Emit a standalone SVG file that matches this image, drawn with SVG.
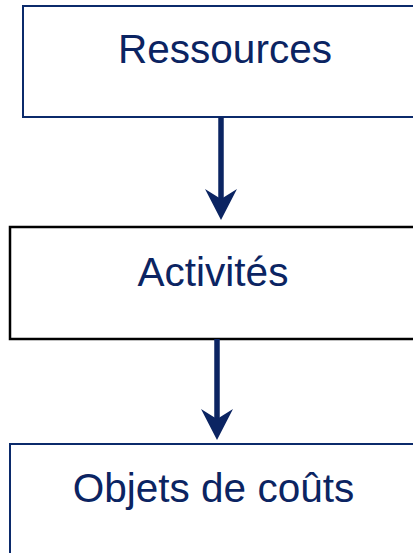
<svg xmlns="http://www.w3.org/2000/svg" width="413" height="553" viewBox="0 0 413 553">
<style>
.lbl{font-family:"Liberation Sans",Arial,sans-serif;font-size:40.5px;fill:#0b2462;text-anchor:middle}
.blue{fill:#fff;stroke:#0b2a6b;stroke-width:2}
.black{fill:#fff;stroke:#000;stroke-width:2.5}
.conn{stroke:#0b2462;stroke-width:5.5;fill:none}
</style>
<defs>
<marker id="ah" markerUnits="userSpaceOnUse" markerWidth="32" markerHeight="32" viewBox="0 0 32 32" refX="31" refY="16" orient="auto">
<path d="M0,0 L31,16 L0,32 L10,16 Z" fill="#0b2462"/>
</marker>
</defs>
<g id="ressources">
<rect class="blue" x="23" y="6" width="400" height="111"/>
<text class="lbl" x="225" y="63">Ressources</text>
</g>
<g id="activites">
<rect class="black" x="10" y="227" width="413" height="112"/>
<text class="lbl" x="213" y="286">Activités</text>
</g>
<g id="objets">
<rect class="blue" x="10" y="444" width="413" height="120"/>
<text class="lbl" x="213.5" y="502">Objets de coûts</text>
</g>
<g id="connectors">
<line class="conn" x1="221" y1="117" x2="221" y2="210"/>
<path d="M205,189 L221,220 L237,189 L221,199 Z" fill="#0b2462"/>
<line class="conn" x1="217" y1="339" x2="217" y2="430"/>
<path d="M201,409 L217,440 L233,409 L217,419 Z" fill="#0b2462"/>
</g>
</svg>
